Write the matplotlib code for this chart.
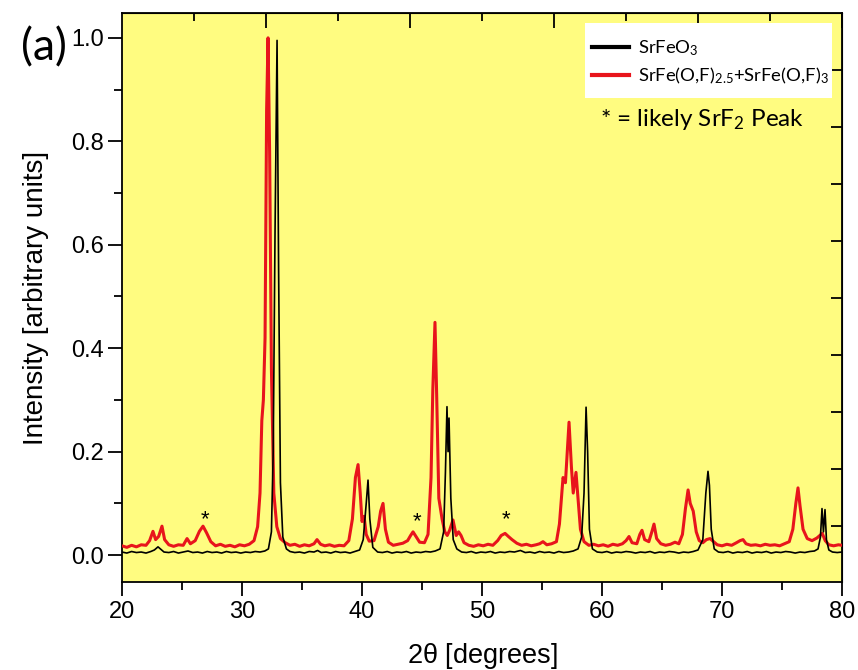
#!/usr/bin/env python3

import numpy as np
import matplotlib
matplotlib.use("Agg")
import matplotlib.pyplot as plt
from matplotlib.patches import Rectangle
from matplotlib.ticker import MultipleLocator

# =========================
# DATA
# =========================

# SrFeO3 pattern
two_theta_black = [
    20.0, 20.4, 20.8, 21.2, 21.6, 22.0, 22.4, 22.7, 23.0, 23.2,
    23.5, 23.9, 24.3, 24.7, 25.1, 25.5, 25.9, 26.3, 26.7, 27.1,
    27.5, 27.9, 28.3, 28.7, 29.1, 29.5, 29.9, 30.3, 30.7, 31.1,
    31.5, 31.9, 32.2, 32.45, 32.6, 32.75, 32.92, 33.05, 33.2, 33.4,
    33.7, 34.0, 34.4, 34.8, 35.2, 35.6, 36.0, 36.3, 36.6, 37.0,
    37.4, 37.8, 38.2, 38.6, 39.0, 39.4, 39.8, 40.1, 40.35, 40.5,
    40.65, 40.9, 41.3, 41.7, 42.1, 42.5, 42.9, 43.3, 43.7, 44.1,
    44.5, 44.9, 45.3, 45.7, 46.1, 46.5, 46.8, 46.95, 47.08, 47.17,
    47.25, 47.4, 47.6, 47.9, 48.3, 48.7, 49.1, 49.5, 49.9, 50.3,
    50.7, 51.1, 51.5, 51.9, 52.3, 52.7, 53.2, 53.6, 54.0, 54.4,
    54.8, 55.2, 55.6, 56.0, 56.4, 56.8, 57.2, 57.6, 58.0, 58.3,
    58.5, 58.67, 58.8, 58.95, 59.2, 59.6, 60.0, 60.4, 60.8, 61.2,
    61.6, 62.0, 62.4, 62.8, 63.2, 63.6, 64.0, 64.4, 64.8, 65.2,
    65.6, 66.0, 66.4, 66.8, 67.2, 67.6, 68.0, 68.4, 68.65, 68.83,
    68.95, 69.1, 69.35, 69.7, 70.1, 70.5, 70.9, 71.3, 71.7, 72.1,
    72.5, 72.9, 73.3, 73.7, 74.1, 74.5, 74.9, 75.3, 75.7, 76.1,
    76.5, 76.9, 77.3, 77.7, 78.0, 78.2, 78.33, 78.45, 78.58, 78.7,
    78.9, 79.2, 79.6, 80.0,
]
intensity_black = [
    0.006, 0.004, 0.007, 0.005, 0.006, 0.004, 0.007, 0.010, 0.016, 0.012,
    0.006, 0.005, 0.007, 0.004, 0.006, 0.008, 0.005, 0.006, 0.004, 0.007,
    0.005, 0.006, 0.004, 0.007, 0.005, 0.006, 0.004, 0.006, 0.005, 0.007,
    0.006, 0.008, 0.012, 0.045, 0.20, 0.62, 0.995, 0.55, 0.14, 0.035,
    0.012, 0.007, 0.005, 0.006, 0.004, 0.007, 0.006, 0.009, 0.005, 0.006,
    0.004, 0.007, 0.005, 0.006, 0.004, 0.007, 0.010, 0.030, 0.100, 0.145,
    0.070, 0.015, 0.006, 0.005, 0.007, 0.004, 0.006, 0.005, 0.007, 0.004,
    0.006, 0.005, 0.007, 0.006, 0.008, 0.012, 0.045, 0.16, 0.287, 0.20,
    0.265, 0.11, 0.030, 0.012, 0.006, 0.005, 0.007, 0.004, 0.006, 0.005,
    0.007, 0.004, 0.006, 0.005, 0.007, 0.006, 0.009, 0.005, 0.006, 0.004,
    0.007, 0.005, 0.006, 0.004, 0.007, 0.005, 0.006, 0.008, 0.012, 0.035,
    0.12, 0.286, 0.20, 0.05, 0.012, 0.006, 0.005, 0.007, 0.004, 0.006,
    0.005, 0.007, 0.006, 0.004, 0.006, 0.005, 0.007, 0.004, 0.006, 0.005,
    0.007, 0.006, 0.004, 0.006, 0.005, 0.007, 0.010, 0.030, 0.12, 0.162,
    0.135, 0.05, 0.012, 0.006, 0.005, 0.007, 0.004, 0.006, 0.005, 0.007,
    0.004, 0.006, 0.005, 0.007, 0.004, 0.006, 0.005, 0.007, 0.006, 0.004,
    0.006, 0.005, 0.007, 0.008, 0.012, 0.035, 0.090, 0.045, 0.088, 0.030,
    0.010, 0.006, 0.005, 0.006,
]

# SrFe(O,F)2.5 + SrFe(O,F)3 pattern
two_theta_red = [
    20.0, 20.4, 20.8, 21.2, 21.6, 22.0, 22.3, 22.58, 22.8, 23.05,
    23.33, 23.55, 23.9, 24.3, 24.7, 25.1, 25.42, 25.7, 26.1, 26.45,
    26.75, 27.05, 27.4, 27.8, 28.2, 28.6, 29.0, 29.4, 29.8, 30.2,
    30.6, 31.0, 31.3, 31.5, 31.65, 31.78, 31.92, 32.05, 32.17, 32.3,
    32.45, 32.65, 32.9, 33.2, 33.6, 34.0, 34.4, 34.8, 35.2, 35.6,
    36.0, 36.25, 36.55, 36.9, 37.3, 37.7, 38.1, 38.5, 38.9, 39.2,
    39.45, 39.67, 39.85, 40.0, 40.17, 40.35, 40.6, 41.0, 41.35, 41.55,
    41.75, 41.95, 42.2, 42.6, 43.0, 43.4, 43.8, 44.05, 44.25, 44.5,
    44.8, 45.2, 45.5, 45.75, 45.9, 46.08, 46.22, 46.4, 46.67, 46.9,
    47.1, 47.3, 47.58, 47.85, 48.05, 48.25, 48.5, 48.9, 49.3, 49.7,
    50.1, 50.5, 50.9, 51.3, 51.6, 51.92, 52.2, 52.5, 52.9, 53.3,
    53.7, 54.1, 54.5, 54.8, 55.08, 55.4, 55.8, 56.2, 56.45, 56.75,
    56.95, 57.1, 57.25, 57.45, 57.6, 57.83, 58.0, 58.2, 58.5, 58.9,
    59.3, 59.7, 60.1, 60.5, 60.9, 61.3, 61.7, 62.0, 62.25, 62.5,
    62.9, 63.15, 63.33, 63.55, 63.9, 64.15, 64.33, 64.55, 64.9, 65.3,
    65.7, 66.08, 66.4, 66.7, 66.95, 67.17, 67.35, 67.6, 67.85, 68.1,
    68.4, 68.7, 69.0, 69.3, 69.6, 70.0, 70.4, 70.8, 71.2, 71.5,
    71.75, 72.0, 72.4, 72.8, 73.2, 73.6, 74.0, 74.4, 74.8, 75.2,
    75.6, 75.9, 76.15, 76.33, 76.5, 76.75, 77.1, 77.5, 77.9, 78.15,
    78.35, 78.6, 78.9, 79.3, 79.7, 80.0,
]
intensity_red = [
    0.018, 0.015, 0.019, 0.016, 0.020, 0.019, 0.028, 0.046, 0.030, 0.036,
    0.056, 0.030, 0.020, 0.017, 0.020, 0.019, 0.032, 0.022, 0.028, 0.046,
    0.056, 0.043, 0.026, 0.018, 0.021, 0.017, 0.019, 0.016, 0.020, 0.018,
    0.021, 0.028, 0.055, 0.12, 0.26, 0.30, 0.42, 0.86, 1.00, 0.78,
    0.36, 0.12, 0.055, 0.032, 0.024, 0.019, 0.021, 0.017, 0.020, 0.018,
    0.022, 0.030, 0.021, 0.018, 0.020, 0.017, 0.019, 0.018, 0.028, 0.070,
    0.150, 0.175, 0.120, 0.065, 0.075, 0.040, 0.027, 0.028, 0.055, 0.085,
    0.100, 0.050, 0.025, 0.019, 0.021, 0.023, 0.028, 0.038, 0.045, 0.036,
    0.025, 0.024, 0.040, 0.150, 0.320, 0.450, 0.310, 0.110, 0.070, 0.045,
    0.038, 0.048, 0.068, 0.038, 0.045, 0.038, 0.024, 0.019, 0.017, 0.020,
    0.018, 0.021, 0.019, 0.028, 0.038, 0.042, 0.036, 0.030, 0.023, 0.019,
    0.021, 0.018, 0.020, 0.022, 0.026, 0.020, 0.022, 0.026, 0.060, 0.150,
    0.140, 0.200, 0.257, 0.170, 0.120, 0.160, 0.110, 0.050, 0.026, 0.019,
    0.021, 0.018, 0.020, 0.017, 0.021, 0.019, 0.022, 0.028, 0.036, 0.024,
    0.022, 0.040, 0.048, 0.030, 0.026, 0.045, 0.060, 0.032, 0.022, 0.019,
    0.021, 0.025, 0.022, 0.040, 0.090, 0.126, 0.100, 0.085, 0.045, 0.028,
    0.024, 0.030, 0.032, 0.026, 0.020, 0.018, 0.021, 0.019, 0.024, 0.028,
    0.030, 0.022, 0.019, 0.020, 0.018, 0.021, 0.019, 0.020, 0.018, 0.022,
    0.026, 0.050, 0.100, 0.130, 0.095, 0.050, 0.032, 0.028, 0.033, 0.038,
    0.042, 0.028, 0.020, 0.018, 0.020, 0.019,
]

# likely SrF2 reflections
star_theta = [26.9, 44.6, 52.0]
star_level = [0.068, 0.064, 0.068]

# =========================
# STYLE
# =========================

plt.rcParams['font.family'] = ['Liberation Sans', 'DejaVu Sans']
plt.rcParams['mathtext.default'] = 'regular'

bg_yellow = '#FFFC80'
red = '#E8141C'

fig = plt.figure(figsize=(8.58, 6.70), dpi=100)
ax = fig.add_axes([0.1422, 0.1313, 0.8392, 0.8493])
ax.set_facecolor(bg_yellow)

# =========================
# PLOT
# =========================

ax.plot(two_theta_red, intensity_red, color=red, linewidth=2.2,
        label=r'SrFe(O,F)$_{2.5}$+SrFe(O,F)$_3$', zorder=3)
ax.plot(two_theta_black, intensity_black, color='black', linewidth=1.2,
        label=r'SrFeO$_3$', zorder=4)

for t, lv in zip(star_theta, star_level):
    ax.text(t, lv, '*', ha='center', va='center', fontsize=16, zorder=5)

ax.set_xlim(20, 80)
ax.set_ylim(-0.052, 1.048)

ax.xaxis.set_major_locator(MultipleLocator(10))
ax.xaxis.set_minor_locator(MultipleLocator(5))
ax.yaxis.set_major_locator(MultipleLocator(0.2))
ax.yaxis.set_minor_locator(MultipleLocator(0.1))
ax.yaxis.set_major_formatter(plt.FormatStrFormatter('%.1f'))

ax.tick_params(which='major', direction='out', length=10, width=1.3,
               labelsize=17, top=False, right=False)
ax.tick_params(which='minor', direction='out', length=6, width=1.3,
               top=False, right=False)
ax.tick_params(axis='y', pad=3)
for sp in ax.spines.values():
    sp.set_linewidth(1.3)

# opposite axes (separate layers in the original)
top = ax.secondary_xaxis('top')
top.set_xticks(np.arange(32, 81, 12))
top.set_xticks(np.arange(26, 80, 12), minor=True)
top.tick_params(which='major', direction='in', length=11, width=1.3, labeltop=False)
top.tick_params(which='minor', direction='in', length=6, width=1.3)
top.set_xticklabels([])

right = ax.secondary_yaxis('right')
right.set_yticks(0.056 + 0.1103 * np.arange(9))
right.tick_params(direction='in', length=8, width=1.3, labelright=False)
right.set_yticklabels([])

ax.set_xlabel(r'2$\theta$ [degrees]', fontsize=19.5, labelpad=13)
ax.set_ylabel('Intensity [arbitrary units]', fontsize=20, labelpad=16)

# -------------------------
# legend: white box + entries
# -------------------------
ax.add_patch(Rectangle((0.643, 0.851), 0.343, 0.132, transform=ax.transAxes,
                       facecolor='white', edgecolor='none', zorder=6))
handles, labels = ax.get_legend_handles_labels()
leg = ax.legend(handles[::-1], labels[::-1], loc='upper left',
                bbox_to_anchor=(0.653, 0.956), borderaxespad=0,
                prop={'family': 'Lato', 'size': 13.3}, frameon=False,
                handlelength=2.0, handletextpad=0.5,
                labelspacing=0.42, borderpad=0)
leg.set_zorder(7)
for ln in leg.get_lines():
    ln.set_linewidth(3)

ax.text(0.806, 0.812, r'* = likely SrF$_2$ Peak', transform=ax.transAxes,
        ha='center', va='center', fontsize=17.5, family='Lato', zorder=7)

fig.text(0.0513, 0.928, '(a)', ha='center', va='center', fontsize=32,
         family='Lato')

fig.savefig('out.png', dpi=100)
